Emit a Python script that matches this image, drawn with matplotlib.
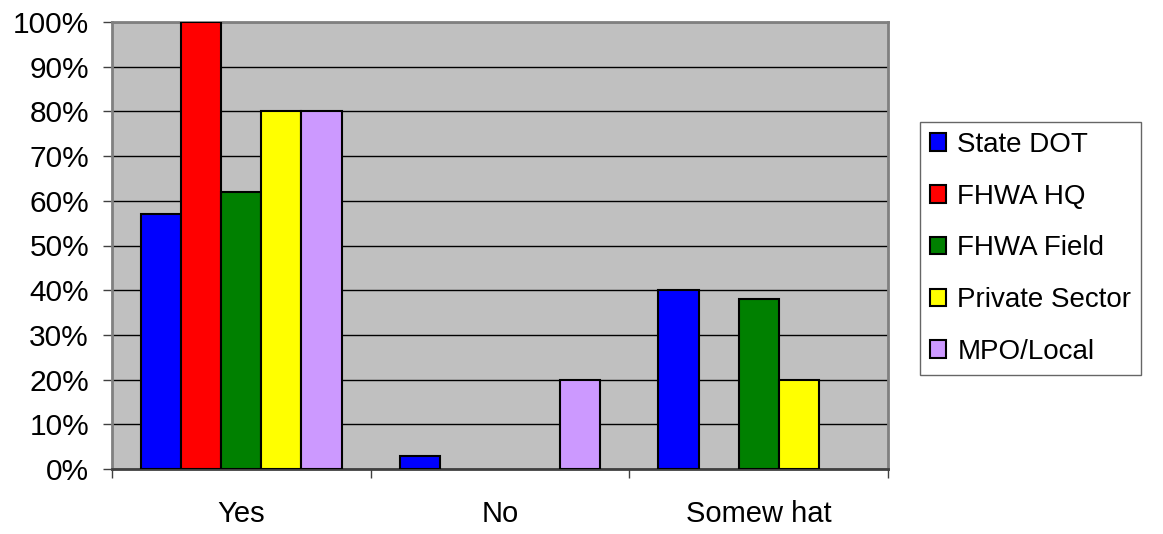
import matplotlib
matplotlib.use("Agg")
import matplotlib.pyplot as plt
import numpy as np
from matplotlib.ticker import FixedLocator

plt.rcParams['font.family'] = ['Liberation Sans', 'DejaVu Sans']

categories = ["Yes", "No", "Somew hat"]
series_names = ["State DOT", "FHWA HQ", "FHWA Field", "Private Sector", "MPO/Local"]
state_dot = [57, 3, 40]
fhwa_hq = [100, 0, 0]
fhwa_field = [62, 0, 38]
private_sector = [80, 0, 20]
mpo_local = [80, 20, 0]
colors = ["#0000FF", "#FF0000", "#008000", "#FFFF00", "#CC99FF"]
y_ticks = [0, 10, 20, 30, 40, 50, 60, 70, 80, 90, 100]
y_labels = [f"{t}%" for t in y_ticks]

series = [state_dot, fhwa_hq, fhwa_field, private_sector, mpo_local]

fig = plt.figure(figsize=(11.63, 5.34), dpi=100)
ax = fig.add_axes([112/1163, 1-469/534, (888-112)/1163, (469-22)/534])
ax.set_facecolor("#C0C0C0")

x = np.arange(len(categories))
w = 0.155
for i, (vals, name, c) in enumerate(zip(series, series_names, colors)):
    edges = ["black" if v > 0 else "none" for v in vals]
    ax.bar(x + (i - 2) * w, vals, w, color=c, edgecolor=edges, linewidth=1.5,
           label=name, zorder=3)

ax.set_xlim(-0.5, 2.5)
ax.set_ylim(0, 100)
ax.set_yticks(y_ticks)
ax.set_yticklabels(y_labels, fontsize=21.5)
ax.yaxis.grid(True, color="black", linewidth=1, zorder=1)
ax.set_axisbelow(True)

ax.set_xticks(x)
ax.set_xticklabels(categories, fontsize=21)
ax.tick_params(axis="x", length=0, pad=22)
ax.xaxis.set_minor_locator(FixedLocator([-0.5, 0.5, 1.5, 2.5]))
ax.tick_params(axis="x", which="minor", length=6.5, width=1, color="#404040")
ax.tick_params(axis="y", length=6.5, width=1, color="#404040", pad=10)

for s in ["left", "top", "right"]:
    ax.spines[s].set_color("#808080")
    ax.spines[s].set_linewidth(2)
ax.spines["bottom"].set_color("#404040")
ax.spines["bottom"].set_linewidth(2)

handles, labels = ax.get_legend_handles_labels()
leg = fig.legend(handles, labels, loc="upper left",
                 bbox_to_anchor=(920/1163, 1-122/534),
                 fontsize=20, frameon=True, fancybox=False, edgecolor="#404040",
                 handlelength=0.6, handleheight=0.6, handletextpad=0.4,
                 labelspacing=0.93, borderpad=0.35, borderaxespad=0)
leg.get_frame().set_linewidth(1)
for h in leg.legend_handles:
    h.set_edgecolor("black")
    h.set_linewidth(1.5)

fig.savefig("out.png", dpi=100)
